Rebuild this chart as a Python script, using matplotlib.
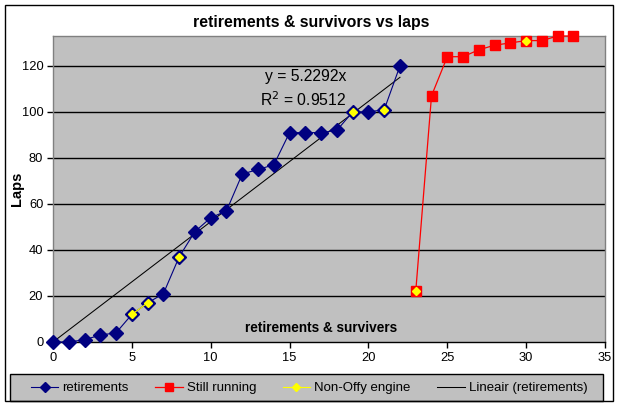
import numpy as np
import matplotlib
matplotlib.use("Agg")
import matplotlib.pyplot as plt
from matplotlib.patches import Rectangle

plt.rcParams['font.family'] = ['Liberation Sans', 'DejaVu Sans']

# Data
ret_x = list(range(0, 23))
ret_y = [0, 0, 1, 3, 4, 12, 17, 21, 37, 48, 54, 57, 73, 75, 77, 91, 91, 91, 92, 100, 100, 101, 120]
run_x = list(range(23, 34))
run_y = [22, 107, 124, 124, 127, 129, 130, 131, 131, 133, 133]
offy_x = list(range(0, 34))
offy_y = [np.nan] * 34
for xi, yi in [(5, 12), (6, 17), (8, 37), (19, 100), (21, 101), (23, 22), (30, 131)]:
    offy_y[xi] = yi
slope = 5.2292
r2 = 0.9512
trend_x = [0, 22]
xticks = [0, 5, 10, 15, 20, 25, 30, 35]
yticks = [0, 20, 40, 60, 80, 100, 120]

W, H = 620, 407
fig = plt.figure(figsize=(W / 100, H / 100), dpi=100)
fig.patch.set_facecolor('white')

# outer border
fig.add_artist(Rectangle((5 / W, 1 - 401 / H), 608 / W, 396 / H, transform=fig.transFigure,
                         fill=False, edgecolor='black', linewidth=1.0))

ax = fig.add_axes([53 / W, 1 - 342 / H, 552 / W, 306 / H])
ax.set_facecolor('#c0c0c0')
ax.set_xlim(0, 35)
ax.set_ylim(0, 133)
ax.set_xticks(xticks)
ax.set_yticks(yticks)
ax.tick_params(axis='both', direction='out', length=4, width=1, labelsize=9.3, colors='black')
ax.tick_params(axis='y', pad=3)
ax.tick_params(axis='x', pad=3)
for y in yticks[1:]:
    ax.axhline(y, color='black', linewidth=1.0, zorder=1)
ax.spines['top'].set_color('#808080')
ax.spines['right'].set_color('#808080')
ax.spines['left'].set_color('#808080')
ax.spines['bottom'].set_color('black')
for s in ax.spines.values():
    s.set_linewidth(1.0)

tx = np.array(trend_x, dtype=float)
l4, = ax.plot(tx, slope * tx, color='black', linewidth=0.75, zorder=2, label='Lineair (retirements)')
l1, = ax.plot(ret_x, ret_y, color='#000080', linewidth=0.8, marker='D', markersize=6.8,
              markerfacecolor='#000080', markeredgecolor='#000080', zorder=3, label='retirements',
              clip_on=False)
l2, = ax.plot(run_x, run_y, color='#ff0000', linewidth=0.9, marker='s', markersize=7.2,
              markerfacecolor='#ff0000', markeredgecolor='#ff0000', zorder=3, label='Still running',
              clip_on=False)
l3, = ax.plot(offy_x, offy_y, color='#ffff00', linewidth=0.8, marker='D', markersize=4.5,
              markerfacecolor='#ffff00', markeredgecolor='#ffff00', zorder=4, label='Non-Offy engine',
              clip_on=False)

ax.text(18.6, 115.5, 'y = 5.2292x', ha='right', va='center', fontsize=11.3, color='black')
ax.text(18.6, 105.5, 'R$^2$ = 0.9512', ha='right', va='center', fontsize=11.3, color='black')

ax.text((321 - 53) / 552, (342 - 328) / 306, 'retirements & survivers', transform=ax.transAxes,
        ha='center', va='center', fontsize=9.8, fontweight='bold')

fig.text(311 / W, 1 - 23 / H, 'retirements & survivors vs laps', ha='center', va='center',
         fontsize=11.4, fontweight='bold')
fig.text(17 / W, 1 - 189 / H, 'Laps', ha='center', va='center', rotation=90,
         fontsize=10.5, fontweight='bold')

# legend box
fig.add_artist(Rectangle((10 / W, 1 - 401 / H), 593 / W, 27 / H, transform=fig.transFigure,
                         facecolor='#c0c0c0', edgecolor='black', linewidth=1.0, zorder=0))
leg = fig.legend(handles=[l1, l2, l3, l4], loc='center', ncol=4,
                 bbox_to_anchor=(309 / W, 1 - 388 / H), frameon=False, fontsize=9.5,
                 handlelength=2.1, handletextpad=0.3, columnspacing=2.0,
                 borderpad=0, borderaxespad=0, markerscale=0.8)

fig.savefig('out.png', dpi=100)
